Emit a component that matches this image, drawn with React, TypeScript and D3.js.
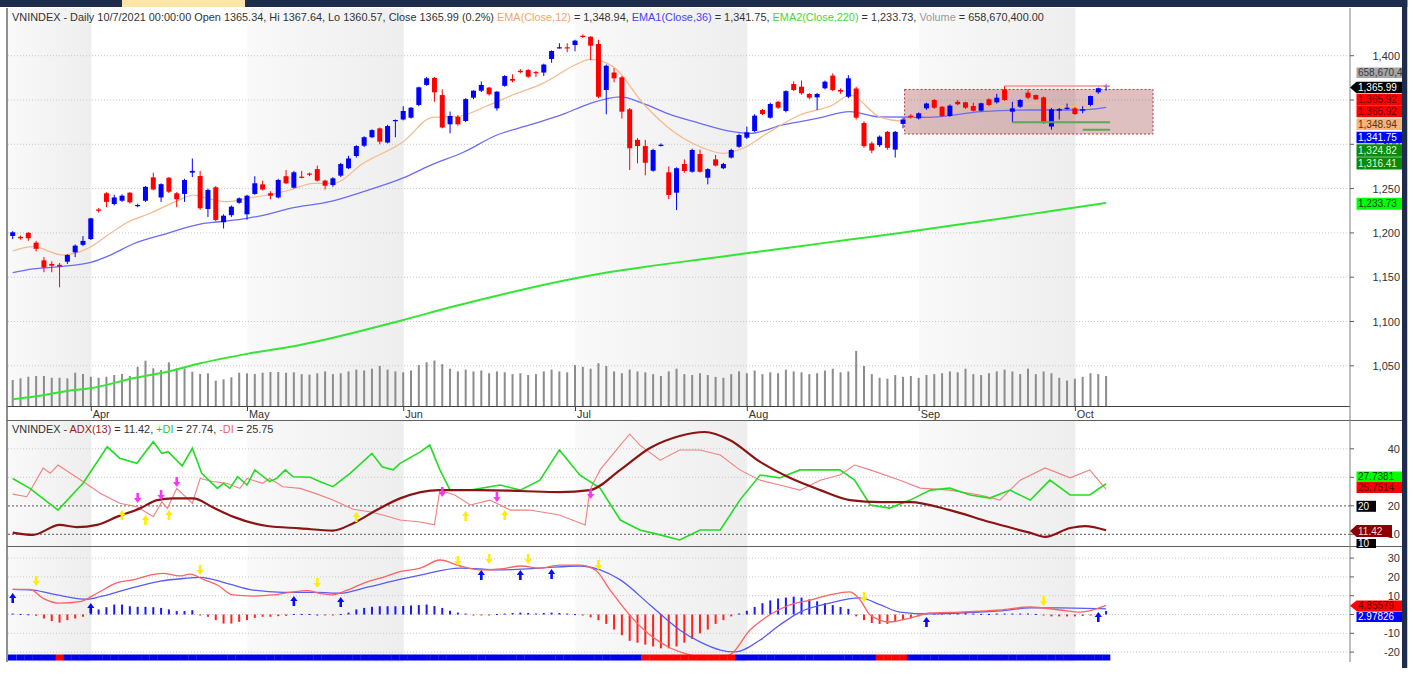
import React from "react";
import * as d3 from "d3";

// ---------- DATA ----------
const openP = [1196.5,1195.5,1200,1189,1169,1165,1164,1167.5,1178,1186.5,1193,1226.5,1244.7,1232.6,1236.3,1245.4,1230.5,1236.3,1262.7,1240,1262.3,1244.7,1244,1268,1264.2,1227,1251.5,1212,1220,1234,1221,1244,1254.8,1244.7,1240,1264,1251,1263.5,1267,1272,1259,1254,1264.6,1273,1286.8,1298.4,1308,1318,1302,1326.5,1328,1330,1344.4,1367,1375,1355.6,1322.6,1331,1326.3,1352.6,1360.5,1364,1340.6,1366,1373.7,1383,1383.8,1381.5,1381,1396.3,1408.5,1409.5,1412,1422.5,1421.4,1413.2,1361.3,1381,1375.6,1339.5,1305,1298,1270.2,1298.5,1268.4,1245.4,1277.8,1269,1289,1262.3,1283,1273,1285,1297.3,1307.5,1315,1338.7,1330,1348,1337.6,1368,1365,1356.8,1353,1363.2,1377.5,1361.3,1353.7,1363,1324,1301,1299,1314,1294,1323,1332.3,1329.3,1340.6,1350,1342.4,1332,1348,1347.4,1343.2,1337.9,1350.8,1347.4,1362,1336.8,1342.4,1358.3,1355.6,1353,1320,1338,1339.8,1340.6,1337.9,1344.4,1358.7,1365.34];
const highP = [1202,1197,1201,1191,1172.7,1168,1166,1176,1187,1196.5,1217,1228,1246,1243,1243.5,1246,1233,1253,1268,1256,1263,1246,1261,1284,1270,1250,1253,1221,1231,1240,1243,1264,1259,1247,1261,1271,1270,1270,1268,1276,1260,1263,1279,1287,1299,1309,1317,1319,1322,1328,1343,1342,1365,1376,1376,1362,1337,1333,1352,1361,1371,1365,1360,1378,1379,1385,1385,1383,1391,1406,1414,1414,1418,1424,1422,1418,1390,1386,1377,1341,1307,1305,1295,1301,1275,1274,1283,1295,1294,1273,1288,1279,1295,1312,1320,1334,1340,1347,1349,1361,1371,1372,1358,1358,1372,1380,1363,1378,1365,1326,1303,1310,1315,1315,1330,1334,1336,1347,1351,1343,1345,1350,1348,1347,1347,1352,1357,1365.92,1348,1351,1362,1356,1354,1341,1341,1346,1342,1343,1355,1364,1367.64];
const lowP = [1193,1192.5,1191,1179,1155.6,1155.6,1138.6,1165,1172.7,1185,1192,1223,1229,1231,1235,1233,1229,1235,1248,1235,1245,1229,1235,1263,1226,1218,1213,1205,1218,1233,1215,1243,1248,1238,1239,1255,1250,1261.5,1264,1258,1249,1252,1263,1272,1285,1297,1307,1300,1301,1308,1327,1329,1343,1366,1348,1318,1312.4,1321,1325,1351,1359,1355,1338,1365,1370,1380,1375,1376,1377,1392,1408,1404,1405,1420,1395,1352,1333.9,1370,1329,1271,1278.5,1265,1269,1297.5,1238,1225.8,1268,1268,1268,1254.8,1275,1272,1284,1296,1306,1314,1333,1329,1340,1336,1360,1356,1351,1338.7,1362,1360,1357,1352,1328,1296,1290,1297,1294,1285,1318,1329,1328,1339,1340,1331,1331,1344,1340,1337,1337,1343,1346,1349,1324.82,1341,1351,1350,1323,1316.41,1328,1339,1333,1335,1343,1357,1360.57];
const closeP = [1200.7,1194,1194,1182,1161,1163,1162,1175,1185.6,1191,1216.4,1225,1235,1240,1242,1234.5,1231.5,1252,1249,1255,1246.5,1238,1259.7,1270,1227.8,1248.4,1214.6,1219.4,1229.6,1239,1242,1256,1249,1242,1259.7,1256,1268.4,1262.7,1266,1259,1253.3,1261.6,1277.7,1284,1298,1308,1316,1303,1320.6,1327.4,1337.6,1341.3,1364.3,1374.5,1358.7,1319,1332,1322.6,1351,1360.5,1367,1356.4,1359.4,1377,1371.8,1381.5,1376.3,1380.5,1390,1405.3,1409.5,1408.5,1417,1421.5,1411.3,1353.7,1388.7,1374.5,1336.8,1295.5,1298,1279.2,1293.6,1299.5,1242.8,1273,1269.9,1293.6,1269,1272,1276,1277.8,1293.6,1310.5,1313.5,1332.3,1334.2,1345.5,1341.3,1360,1361.3,1357.6,1352.6,1356.8,1370.7,1361.3,1359.4,1374.5,1330,1298,1293,1308.6,1296,1314,1328,1330.5,1335,1346,1341.3,1332,1343.6,1345.2,1341.3,1337.9,1346.3,1344.4,1352.6,1350,1340.6,1350,1352.6,1350.8,1324.4,1339.5,1339.8,1341.3,1334.2,1339.5,1354.5,1363.3,1365.99];
const volumeM = [571,608,643,659,659,621,621,608,731,703,643,621,643,681,703,659,863,995,828,791,960,828,828,753,703,718,556,586,630,731,718,703,731,747,747,731,740,700,690,720,760,700,720,760,800,780,820,880,800,760,740,780,900,960,1000,920,820,760,800,760,780,720,760,740,700,720,680,700,760,800,760,740,900,860,820,940,880,760,720,800,760,740,700,660,760,820,700,680,720,680,640,620,700,760,720,780,700,740,720,800,760,740,700,720,780,820,740,760,1210,880,700,620,600,680,640,660,620,680,700,720,760,740,820,700,680,720,760,800,760,700,820,700,760,720,620,560,600,640,720,700,658.67];

const ema12Idx = [0,2.6,6.4,8.6,10,12.5,14.6,17.6,21.8,23.1,24.9,27.4,30,32.6,35.5,38.5,41,44.9,50,53.8,56.9,60.7,64,67.9,72.6,73.9,76.9,80.7,83.8,88,91,93.5,96.6,100.8,105,107.2,111,114,115.3,119.6,123.9,128,130.6,135,140];
const ema12Val = [1179.6,1184.4,1175,1178.8,1184.4,1199.5,1211.5,1222.1,1239,1242.8,1239,1235.2,1239,1242.8,1248.4,1256,1256,1278.6,1302.9,1330.5,1331.2,1343.2,1355.6,1368.8,1392.1,1395.9,1387.6,1346.3,1319.9,1297.3,1289.8,1295.5,1312.4,1333.1,1344.4,1355.6,1331,1326.3,1331.2,1336.8,1342.4,1344.4,1346.3,1342.4,1348.94];
const ema36Idx = [0,2.6,7,10,12.5,15.4,19.8,24,26.5,30,32.6,35.5,40.6,44.9,50,53.4,57.7,62,66.2,70.5,73.9,77.8,80.7,83.8,88,92.2,94.4,98.6,103,107.2,111,117.2,124,130.3,136.6,140];
const ema36Val = [1155.1,1159.3,1162.7,1166.8,1175,1187.5,1199.5,1210,1212.6,1216.5,1221,1227.8,1235.2,1246.5,1262,1276,1291,1310.5,1321.8,1334,1346,1353.5,1346.3,1335,1323.7,1314.2,1312.4,1321.8,1329.3,1336.8,1331,1330.5,1336.8,1338.7,1338.7,1341.75];
const ema220Idx = [0,2.6,7,10,15.4,19.8,24,30.4,36.8,50,56,62.4,68.8,75.2,81.6,88,94.4,100.8,107.2,113.6,120,126.4,132.8,140];
const ema220Val = [1012.2,1015.1,1021.6,1024.6,1035.9,1043.3,1052.8,1064.1,1073.5,1101.7,1116,1130,1143,1154,1162.5,1170,1177.5,1185,1192.5,1200,1208,1216,1224.5,1233.73];

const adxIdx = [0,2.6,6,8.2,10.8,13.4,16.3,18.5,20.5,23.1,25.6,28.2,32.6,36.8,41,43.6,46.6,49.6,54.7,59.8,65,70,73.9,77.8,81.6,85.4,88.6,91.8,95.7,99.5,103.4,107.2,111.1,114.9,120,125.1,130.3,132.2,135.4,137.3,140];
const adxVal = [10.6,9.8,13.3,12.5,13.3,16.2,19.1,22,22.6,22.6,19.5,16.2,12.9,12.1,11.3,13.9,18.5,22.6,25.5,25.5,25.2,24.8,25.5,32.6,40.3,44.5,45.9,43.1,35.4,29.8,25.5,22,21.3,21.3,18.5,14.3,10.5,9.1,12.2,12.9,11.42];
const plusIdx = [0,2.2,5.8,9,12.1,13.7,15.9,18,19.1,19.9,21.7,23,24.2,26.2,27,27.8,28.8,30,31,32.9,33.8,34.9,35.9,38.1,39.3,41,43.2,46,47.3,48.7,49.6,52.2,53.4,54.7,56,58.6,62.4,65,67.5,70,72.6,75.2,77.8,80.3,82.9,85.4,88,90.6,93.1,95.7,98.2,100.8,103.4,105.9,107.8,109.8,112.3,114.9,117.5,120,122.6,125.1,127.7,130.3,132.8,135.4,137.9,140];
const plusVal = [29.6,26.1,18.5,27.9,40.7,36.7,34.9,42.5,38.4,39,34,40.2,31.4,26.1,27.9,26.1,30.2,27.3,32.6,28.5,29.6,32.6,30.2,30,28.5,26.7,31.4,38.4,33.7,32.6,34.9,38.9,41.3,32.6,25.5,25.5,27.3,25.5,29,39.6,30.8,26.2,15,11.5,9.8,8,11.5,11.5,22,30.8,29.8,32.6,32.6,32.6,29,20.3,19.2,22,25.5,26.2,23.8,22.7,25.5,22,29,23.8,23.8,27.74];
const minusIdx = [0,1.8,3.9,4.8,5.8,9,11.2,13.7,15.9,18,19.1,19.8,21,23,24,25.6,27.4,29.1,30,32,32.9,34.6,36.8,39,41,43.6,45.7,47.4,49.6,52.2,54,54.7,56.6,58.6,61.1,63.7,66.2,70,73.3,73.9,75.2,77.8,79,80.3,82.9,85.4,88,90.6,93.1,95.7,98.2,100.8,103.4,105.9,107.8,109.8,113.6,116.2,120,123.8,126.4,129,132.2,135.4,137.9,140];
const minusVal = [24.1,23.2,33.2,31.4,34.3,28.5,24.4,20.9,19.7,16.2,21.4,19.1,26.1,20.9,29.6,28.5,27.9,26.1,29.6,27.9,29.6,26.7,26.1,24.1,22,18.8,17.9,16.8,15,14.3,13.3,25.5,23.8,20.3,22,18.5,18.5,16.8,13.3,25.5,32.6,41.3,45.2,41.3,36,39.6,39.6,37.8,32.6,29,27.3,25.5,29,30.8,34.3,32.6,29,26.2,25.5,23.8,22,29,33.3,29.8,32.6,25.75];

const macdIdx = [0,2.2,3.9,6,8.6,10.8,13.4,15.4,17.6,19.2,21.4,22.7,24.4,26.2,28.2,30.8,33.3,35.5,37.7,39.3,41,42.3,45.4,47.4,49.6,52.2,54.7,57.3,59.8,62.4,65,67.5,70,72.6,74.6,76.5,79,81.6,84.2,86.7,89.3,91.8,94.4,96.9,99.5,102.1,104.6,107.2,108.5,109.8,112.3,114.9,117.5,121.3,126.4,130.3,134.1,136.7,140];
const macdVal = [13.4,13.4,8.6,6,6.8,11.3,16.9,18.4,21,21.9,20.5,21.5,18.7,15.7,10.4,9.8,10.4,11.8,12.7,11.3,10.4,12.1,17.4,19.8,22.8,24.7,29,25.8,23.7,24.2,25.8,24.7,26.3,26.3,23.7,13,-0.3,-10.9,-17.8,-21.5,-23.1,-21.5,-8.2,-0.3,5.1,7.7,10.4,12,7.7,-0.3,-4,-1.9,0.8,1.3,2.4,4,2.4,1.3,4.86];
const signalIdx = [0,2.6,5.7,9.5,11.2,14.6,18.9,22.3,24,27.4,30.8,34.6,39,41.9,45.4,49.6,52.2,57.3,62.4,67.5,72.6,75.2,77.8,81.6,85.4,88,90.6,92.5,95.7,98.2,100.8,104.6,108.5,111.1,113.6,117.5,121.3,126.4,130.3,134.1,140];
const signalVal = [13.4,13,10.4,8.1,9.5,13.4,17.8,19.3,19.8,16.6,13,11.8,11.8,11.3,14.5,18.7,21,24.7,23.7,24.7,25.8,23.7,18.4,5.1,-8.2,-14.6,-18.9,-19.9,-13.6,-5.6,1.3,6.1,8.8,5.1,1.3,0.3,0.8,1.9,3.5,3.5,2.98];
const histVal = [0.5,0.3,0.1,-0.7,-2.1,-3.5,-4.3,-3,-2.1,-1.2,4.4,2.7,3.9,5.3,5.3,4.4,4.1,4.1,3.9,3.5,2.7,1.8,1.8,2.3,-0.5,-1.2,-3,-4.8,-4.8,-3.9,-3,-1.8,-1.2,-1.2,-0.9,-0.7,0.3,0.3,0.3,0,-0.4,-0.5,0.3,1,2.7,3.5,4.1,4.4,4.4,4.4,4.5,4.8,5,5.3,4.5,3.5,2,1,0.5,-0.5,-0.5,-0.3,0.3,0.5,0.8,1,0.8,0.5,0.8,1,0.8,0.5,0.2,-0.5,-1.5,-3,-5,-8,-11,-14,-15,-16,-17,-18,-18,-17,-15,-13,-10,-8,-5,-3,-1,0.5,2,4,6,7.5,8.5,9,9.5,9,8,7,6,5,4,3,-1,-3,-4.5,-5,-5,-4,-3,-2,-1,0.5,0.5,0.8,0.8,0.8,1,0.5,0.3,0.3,0.5,0.5,0.5,0.5,0.5,0.3,-0.5,-1,-1,-1,-1,-0.8,-0.3,0.5,1.9];
const bandRedIdx = [6,81,82,83,84,85,86,87,88,89,90,91,92,111,112,113,114];

const adxUpIdx = [14,17,20,44,58,63];
const adxUpVal = [18.5,16.8,18.5,17.8,18.2,18.5];
const adxDnIdx = [16,19,21,55,62,74];
const adxDnVal = [21,22,26.6,23.1,21.3,22.4];
const macdUpIdx = [0,10,36,42,60,65,69,117,139];
const macdUpVal = [11.4,6.1,9.8,9.3,23.7,23.7,24.2,-1.3,1.3];
const macdDnIdx = [3,24,39,57,61,66,75,109,132];
const macdDnVal = [15.2,21,14.1,25.8,26.9,26.9,23.7,6.6,4.5];

const monthNames = ["Apr","May","Jun","Jul","Aug","Sep","Oct"];
const monthStart = [10,30,50,72,94,116,136];
const shadedFrom = [-1,30,72,116];
const shadedTo = [10,50,94,136];

const priceTicks = [1050,1100,1150,1200,1250,1300,1350,1400];
const adxTicks = [10,20,30,40];
const adxTickLabels = [10,20,40];
const macdTicks = [-20,-10,0,10,20,30];
const macdTickLabels = [-20,-10,10,20,30];

const boxTop = 1361.9, boxBottom = 1311.6, boxFromIdx = 114.2;
const resistLevel = 1365.92, resistFrom = 127;
const supportLevels = [1324.82, 1316.41];
const supportFrom = [128, 137];

const FONT = "'Liberation Sans', Arial, Helvetica, sans-serif";

function pairs(idx: number[], val: number[]) {
  return idx.map((d, k) => ({ i: d, v: val[k] }));
}

function LabelBox({ y, text, bg, fg, arrow = false, x0 = 1356.5, x1 = 1402, h = 12, fs = 10 }: any) {
  const top = y - h / 2;
  const path = arrow
    ? `M1350,${y} L${x0},${top} L${x1},${top} L${x1},${top + h} L${x0},${top + h} Z`
    : `M${x0},${top} L${x1},${top} L${x1},${top + h} L${x0},${top + h} Z`;
  return (
    <g>
      <path d={path} fill={bg} />
      <text x={x0 + 1.5} y={y + 3.5} fontSize={fs} fill={fg} fontFamily={FONT}>{text}</text>
    </g>
  );
}

function Arrow({ x, y, up, color }: any) {
  const d = up
    ? `M${x},${y} L${x - 3.6},${y + 5} L${x - 1.3},${y + 5} L${x - 1.3},${y + 10} L${x + 1.3},${y + 10} L${x + 1.3},${y + 5} L${x + 3.6},${y + 5} Z`
    : `M${x},${y} L${x - 3.6},${y - 5} L${x - 1.3},${y - 5} L${x - 1.3},${y - 10} L${x + 1.3},${y - 10} L${x + 1.3},${y - 5} L${x + 3.6},${y - 5} Z`;
  return <path d={d} fill={color} />;
}

export default function App() {
  const x = d3.scaleLinear().domain([0, 140]).range([12.7, 1106.1]);
  const yP = d3.scaleLinear().domain([1050, 1400]).range([365.8, 55.7]);
  const yV = d3.scaleLinear().domain([0, 1000]).range([406, 360.5]);
  const yA = d3.scaleLinear().domain([10, 40]).range([534.3, 448.8]);
  const yM = d3.scaleLinear().domain([-20, 30]).range([652.1, 558.1]);
  const L = 8, R = 1350;
  const step = x(1) - x(0);
  const fmt = d3.format(",");
  const fmt2 = d3.format(",.2f");

  const lineP = d3.line<any>().x(d => x(d.i)).y(d => yP(d.v)).curve(d3.curveMonotoneX);
  const lineA = d3.line<any>().x(d => x(d.i)).y(d => yA(d.v));
  const lineAs = d3.line<any>().x(d => x(d.i)).y(d => yA(d.v)).curve(d3.curveMonotoneX);
  const lineM = d3.line<any>().x(d => x(d.i)).y(d => yM(d.v)).curve(d3.curveMonotoneX);

  const panes = [
    { t: 8, b: 406 },
    { t: 421, b: 546 },
    { t: 547, b: 662 },
  ];

  const bx = (idx: number) => x(idx) + 0.5;
  const shadeX0 = (k: number) => (shadedFrom[k] < 0 ? L : bx(shadedFrom[k]));
  const shadeX1 = (k: number) => bx(shadedTo[k]);

  const n = closeP.length;
  const idxs = d3.range(n);
  const lastClose = closeP[n - 1];

  return (
    <svg width={1413} height={679} style={{ display: "block", position: "absolute", left: 0, top: 0, background: "#fff" }} fontFamily={FONT}>
      <defs>
        <linearGradient id="shade" x1="0" x2="1" y1="0" y2="0">
          <stop offset="0" stopColor="#f9f9f9" />
          <stop offset="1" stopColor="#eeeeee" />
        </linearGradient>
        <clipPath id="plotTop"><rect x={L} y={8} width={R - L} height={398} /></clipPath>
        <clipPath id="plotAdx"><rect x={L} y={421} width={R - L} height={125} /></clipPath>
        <clipPath id="plotMacd"><rect x={L} y={547} width={R - L} height={115} /></clipPath>
      </defs>
      <rect x={0} y={0} width={1413} height={679} fill="#fff" />

      {/* month shading */}
      {panes.map((p, pi) => (
        <g key={pi}>
          {shadedFrom.map((_, k) => (
            <rect key={k} x={shadeX0(k)} y={p.t} width={shadeX1(k) - shadeX0(k)} height={p.b - p.t} fill="url(#shade)" />
          ))}
        </g>
      ))}

      {/* grids */}
      {priceTicks.map(t => (
        <line key={t} x1={L} x2={R} y1={yP(t)} y2={yP(t)} stroke="#c8c8c8" strokeDasharray="1,2" />
      ))}
      {adxTicks.map(t => (
        <line key={t} x1={L} x2={R} y1={yA(t)} y2={yA(t)} stroke={t <= 20 ? "#777" : "#c8c8c8"} strokeWidth={t <= 20 ? 1.3 : 1} strokeDasharray={t <= 20 ? "2,2" : "1,2"} />
      ))}
      {macdTicks.map(t => (
        <line key={t} x1={L} x2={R} y1={yM(t)} y2={yM(t)} stroke="#c8c8c8" strokeDasharray="1,2" />
      ))}

      {/* ===== TOP PANE ===== */}
      <g clipPath="url(#plotTop)">
        {idxs.map(i => (
          <rect key={i} x={x(i) - 1} y={yV(volumeM[i])} width={2} height={yV(0) - yV(volumeM[i])} fill="#8c8c8c" />
        ))}
        <rect x={x(boxFromIdx)} y={yP(boxTop)} width={1153 - x(boxFromIdx)} height={yP(boxBottom) - yP(boxTop)}
          fill="rgba(155,63,63,0.33)" stroke="#b03a3a" strokeDasharray="2,2" />
        <path d={lineP(pairs(ema220Idx, ema220Val)) || ""} fill="none" stroke="#33e633" strokeWidth={2} />
        <path d={lineP(pairs(ema36Idx, ema36Val)) || ""} fill="none" stroke="#6b6bf5" strokeWidth={1.3} />
        <path d={lineP(pairs(ema12Idx, ema12Val)) || ""} fill="none" stroke="#f5b98a" strokeWidth={1.2} />
        {idxs.map(i => {
          const up = closeP[i] >= openP[i];
          const c = up ? "#0000ff" : "#ff0000";
          const top = yP(Math.max(openP[i], closeP[i]));
          const bot = yP(Math.min(openP[i], closeP[i]));
          return (
            <g key={i}>
              <line x1={x(i)} x2={x(i)} y1={yP(highP[i])} y2={yP(lowP[i])} stroke={c} strokeWidth={1} />
              <rect x={x(i) - 2.5} y={top} width={5} height={Math.max(1.2, bot - top)} fill={c} />
            </g>
          );
        })}
        <line x1={x(resistFrom)} x2={x(n - 1) + 4} y1={yP(resistLevel)} y2={yP(resistLevel)} stroke="#ff9090" strokeWidth={1.5} />
        {supportLevels.map((lv, k) => (
          <line key={k} x1={x(supportFrom[k])} x2={x(n - 1) + 4} y1={yP(lv)} y2={yP(lv)} stroke="#5aa85a" strokeWidth={2} />
        ))}
      </g>

      {/* header text */}
      <text x={12} y={21} fontSize={10.9} fill="#333">
        <tspan>VNINDEX - Daily 10/7/2021 00:00:00 Open {openP[n - 1]}, Hi {highP[n - 1]}, Lo {lowP[n - 1]}, Close {lastClose} (0.2%) </tspan>
        <tspan fill="#f5a466">EMA(Close,12)</tspan>
        <tspan> = {fmt2(ema12Val[ema12Val.length - 1])}, </tspan>
        <tspan fill="#4545f0">EMA1(Close,36)</tspan>
        <tspan> = {fmt2(ema36Val[ema36Val.length - 1])}, </tspan>
        <tspan fill="#3fd83f">EMA2(Close,220)</tspan>
        <tspan> = {fmt2(ema220Val[ema220Val.length - 1])}, </tspan>
        <tspan fill="#999">Volume</tspan>
        <tspan> = 658,670,400.00</tspan>
      </text>

      {/* x axis */}
      <line x1={L - 1} x2={R} y1={406.5} y2={406.5} stroke="#404040" />
      {monthNames.map((m, k) => (
        <g key={m}>
          <line x1={bx(monthStart[k])} x2={bx(monthStart[k])} y1={406.5} y2={411} stroke="#404040" />
          <text x={bx(monthStart[k]) + 1.5} y={418} fontSize={10.9} fill="#333">{m}</text>
        </g>
      ))}
      <line x1={L - 1} x2={1402} y1={420.5} y2={420.5} stroke="#606060" />

      {/* ===== ADX PANE ===== */}
      <g clipPath="url(#plotAdx)">
        <path d={lineA(pairs(minusIdx, minusVal)) || ""} fill="none" stroke="#f28080" strokeWidth={1.1} />
        <path d={lineA(pairs(plusIdx, plusVal)) || ""} fill="none" stroke="#22dd22" strokeWidth={1.6} />
        <path d={lineAs(pairs(adxIdx, adxVal)) || ""} fill="none" stroke="#8b1414" strokeWidth={2.2} />
        {adxUpIdx.map((d, k) => <Arrow key={"u" + k} x={x(d)} y={yA(adxUpVal[k])} up color="#ffee00" />)}
        {adxDnIdx.map((d, k) => <Arrow key={"d" + k} x={x(d)} y={yA(adxDnVal[k])} up={false} color="#ff33ff" />)}
      </g>
      <text x={12} y={433} fontSize={10.9} fill="#333">
        <tspan>VNINDEX - </tspan>
        <tspan fill="#9a1c1c">ADX(13)</tspan>
        <tspan> = {adxVal[adxVal.length - 1].toFixed(2)}, </tspan>
        <tspan fill="#22cc22">+DI</tspan>
        <tspan> = {plusVal[plusVal.length - 1].toFixed(2)}, </tspan>
        <tspan fill="#f06060">-DI</tspan>
        <tspan> = {minusVal[minusVal.length - 1].toFixed(2)}</tspan>
      </text>
      <line x1={L - 1} x2={1402} y1={546.5} y2={546.5} stroke="#606060" />

      {/* ===== MACD PANE ===== */}
      <g clipPath="url(#plotMacd)">
        {idxs.map(i => (
          <rect key={i} x={x(i) - 1} y={Math.min(yM(0), yM(histVal[i]))} width={2}
            height={Math.max(1, Math.abs(yM(histVal[i]) - yM(0)))} fill={histVal[i] >= 0 ? "#1a1aff" : "#ff2020"} />
        ))}
        <path d={lineM(pairs(signalIdx, signalVal)) || ""} fill="none" stroke="#5a5af5" strokeWidth={1.3} />
        <path d={lineM(pairs(macdIdx, macdVal)) || ""} fill="none" stroke="#ff6262" strokeWidth={1.3} />
        {macdUpIdx.map((d, k) => <Arrow key={"u" + k} x={x(d)} y={yM(macdUpVal[k])} up color="#0a0aff" />)}
        {macdDnIdx.map((d, k) => <Arrow key={"d" + k} x={x(d)} y={yM(macdDnVal[k])} up={false} color="#ffee00" />)}
        {idxs.map(i => (
          <rect key={"b" + i} x={i === 0 ? L : x(i) - step / 2} y={654.5} width={i === 0 ? x(0) + step / 2 - L : step + 0.3} height={6}
            fill={bandRedIdx.includes(i) ? "#ff0000" : "#0000ee"} />
        ))}
      </g>

      {/* frame */}
      <line x1={7} x2={7} y1={8} y2={662} stroke="#6a6a6a" strokeWidth={1.5} />
      <line x1={R} x2={R} y1={8} y2={662} stroke="#808080" />

      {/* right axis ticks and labels */}
      {priceTicks.map(t => (
        <g key={t}>
          <line x1={R} x2={R + 4} y1={yP(t)} y2={yP(t)} stroke="#606060" />
          <text x={1400} y={yP(t) + 4} fontSize={11} textAnchor="end" fill="#333">{fmt(t)}</text>
        </g>
      ))}
      {adxTicks.map(t => <line key={t} x1={R} x2={R + 4} y1={yA(t)} y2={yA(t)} stroke="#606060" />)}
      {adxTickLabels.map(t => <text key={t} x={1400} y={yA(t) + 4} fontSize={11} textAnchor="end" fill="#333">{t}</text>)}
      {macdTicks.map(t => <line key={t} x1={R} x2={R + 4} y1={yM(t)} y2={yM(t)} stroke="#606060" />)}
      {macdTickLabels.map(t => <text key={t} x={1400} y={yM(t) + 4} fontSize={11} textAnchor="end" fill="#333">{t}</text>)}

      {/* value boxes top pane */}
      <LabelBox y={72.7} text="658,670,4" bg="#a6a6a6" fg="#3a3a3a" h={10.5} />
      <LabelBox y={87.5} text={fmt2(lastClose)} bg="#000" fg="#fff" arrow h={11.6} />
      <LabelBox y={99.9} text={fmt2(resistLevel)} bg="#ff0000" fg="#600000" h={11.6} />
      <LabelBox y={111.5} text={fmt2(resistLevel)} bg="#ff0000" fg="#600000" h={11.6} />
      <LabelBox y={124.2} text={fmt2(ema12Val[ema12Val.length - 1])} bg="#f7b37a" fg="#5a3010" h={11.6} />
      <LabelBox y={137.5} text={fmt2(ema36Val[ema36Val.length - 1])} bg="#0000ff" fg="#fff" h={11.6} />
      <LabelBox y={150.5} text={fmt2(supportLevels[0])} bg="#0c8a0c" fg="#d8ffd8" h={12.4} />
      <LabelBox y={163.4} text={fmt2(supportLevels[1])} bg="#0c8a0c" fg="#d8ffd8" h={12.4} />
      <LabelBox y={203.8} text={fmt2(ema220Val[ema220Val.length - 1])} bg="#00ff00" fg="#004000" />

      {/* ADX boxes */}
      <LabelBox y={476.7} text="27.7381" bg="#00ff00" fg="#004000" h={10.5} />
      <LabelBox y={487.5} text="25.7514" bg="#ff0000" fg="#600000" h={11} />
      <LabelBox y={506.3} text="20" bg="#000" fg="#fff" x1={1376} h={11} />
      <LabelBox y={531} text={adxVal[adxVal.length - 1].toFixed(2)} bg="#8b0000" fg="#ffd0d0" arrow x1={1392} h={12} />
      <LabelBox y={543.5} text="10" bg="#000" fg="#fff" x1={1376} h={9} />

      {/* MACD boxes */}
      <LabelBox y={605.7} text="4.85579" bg="#ff0000" fg="#600000" arrow h={10.5} />
      <LabelBox y={616.7} text="2.97826" bg="#0000ff" fg="#fff" h={10.5} />

      {/* app chrome */}
      <rect x={0} y={0} width={1413} height={7} fill="#1d2d4b" />
      <rect x={122} y={0} width={123} height={7} fill="#fbe6a8" />
      <rect x={1402} y={0} width={5.5} height={668} fill="#1d2d4b" />
      <rect x={1407.5} y={0} width={6} height={679} fill="#fff" />
    </svg>
  );
}
